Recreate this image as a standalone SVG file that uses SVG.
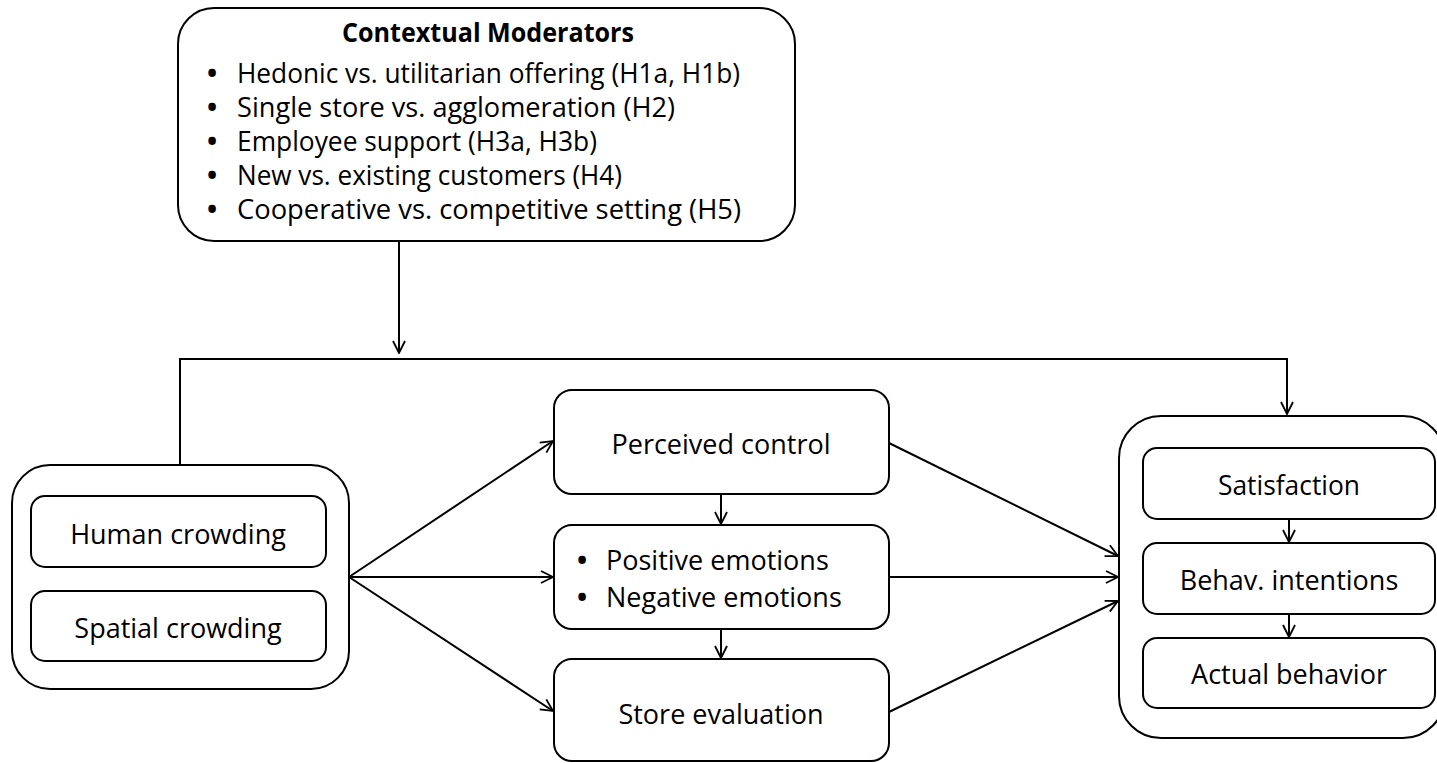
<svg xmlns="http://www.w3.org/2000/svg" width="1437" height="763" viewBox="0 0 1437 763">
<style>
  .box { fill: #fff; stroke: #000; stroke-width: 2; }
  .t { font-family: "Open Sans", "Noto Sans", "Liberation Sans", sans-serif; font-size: 27px; fill: #000; }
  .c { text-anchor: middle; }
  .b { font-weight: bold; }
  .bu { font-family: "Open Sans", "Noto Sans", "Liberation Sans", sans-serif; font-size: 27px; font-weight: bold; fill: #000; text-anchor: middle; }
  .ln { fill: none; stroke: #000; stroke-width: 2; }
</style>
<defs>
  <marker id="arr" viewBox="0 0 14 14" refX="13" refY="7" markerWidth="14" markerHeight="14" markerUnits="userSpaceOnUse" orient="auto">
    <path d="M1,1 L13,7 L1,13" fill="none" stroke="#000" stroke-width="1.8"/>
  </marker>
</defs>
<rect width="1437" height="763" fill="#fff"/>

<g id="moderators">
  <rect class="box" x="178" y="8" width="617" height="233" rx="36"/>
  <text class="t c b" x="488" y="42" textLength="292" lengthAdjust="spacingAndGlyphs">Contextual Moderators</text>
  <g>
    <text class="bu" x="212" y="83">•</text><text class="t" x="237" y="83" textLength="503" lengthAdjust="spacingAndGlyphs">Hedonic vs. utilitarian offering (H1a, H1b)</text>
    <text class="bu" x="212" y="117">•</text><text class="t" x="237" y="117" textLength="438" lengthAdjust="spacingAndGlyphs">Single store vs. agglomeration (H2)</text>
    <text class="bu" x="212" y="151">•</text><text class="t" x="237" y="151" textLength="360" lengthAdjust="spacingAndGlyphs">Employee support (H3a, H3b)</text>
    <text class="bu" x="212" y="185">•</text><text class="t" x="237" y="185" textLength="385" lengthAdjust="spacingAndGlyphs">New vs. existing customers (H4)</text>
    <text class="bu" x="212" y="219">•</text><text class="t" x="237" y="219" textLength="504" lengthAdjust="spacingAndGlyphs">Cooperative vs. competitive setting (H5)</text>
  </g>
</g>

<g id="crowding">
  <rect class="box" x="12" y="465" width="337" height="224" rx="38"/>
  <g id="human">
    <rect class="box" x="31" y="496" width="295" height="71" rx="14"/>
    <text class="t c" x="178" y="544">Human crowding</text>
  </g>
  <g id="spatial">
    <rect class="box" x="31" y="591" width="295" height="70" rx="14"/>
    <text class="t c" x="178" y="638">Spatial crowding</text>
  </g>
</g>

<g id="perceived-control">
  <rect class="box" x="554" y="390" width="335" height="104" rx="18"/>
  <text class="t c" x="721" y="454">Perceived control</text>
</g>

<g id="emotions">
  <rect class="box" x="554" y="525" width="335" height="104" rx="18"/>
  <text class="bu" x="582" y="570">•</text><text class="t" x="606" y="570">Positive emotions</text>
  <text class="bu" x="582" y="607">•</text><text class="t" x="606" y="607">Negative emotions</text>
</g>

<g id="store-evaluation">
  <rect class="box" x="554" y="659" width="335" height="102" rx="18"/>
  <text class="t c" x="721" y="724">Store evaluation</text>
</g>

<g id="outcomes">
  <rect class="box" x="1119" y="416" width="326" height="322" rx="42"/>
  <g id="satisfaction">
    <rect class="box" x="1143" y="448" width="292" height="71" rx="14"/>
    <text class="t c" x="1289" y="495" textLength="142" lengthAdjust="spacingAndGlyphs">Satisfaction</text>
  </g>
  <g id="intentions">
    <rect class="box" x="1143" y="543" width="292" height="71" rx="14"/>
    <text class="t c" x="1289" y="590">Behav. intentions</text>
  </g>
  <g id="behavior">
    <rect class="box" x="1143" y="638" width="292" height="70" rx="14"/>
    <text class="t c" x="1289" y="684">Actual behavior</text>
  </g>
</g>

<g id="connectors">
  <path class="ln" d="M399,241 L399,353" marker-end="url(#arr)"/>
  <path class="ln" d="M180,465 L180,359 L1287,359 L1287,414" marker-end="url(#arr)"/>
  <path class="ln" d="M349,577 L553,441" marker-end="url(#arr)"/>
  <path class="ln" d="M349,577 L553,577" marker-end="url(#arr)"/>
  <path class="ln" d="M349,577 L553,711" marker-end="url(#arr)"/>
  <path class="ln" d="M721,494 L721,524" marker-end="url(#arr)"/>
  <path class="ln" d="M721,629 L721,658" marker-end="url(#arr)"/>
  <path class="ln" d="M889,443 L1118,556" marker-end="url(#arr)"/>
  <path class="ln" d="M889,577 L1118,577" marker-end="url(#arr)"/>
  <path class="ln" d="M889,712 L1118,601" marker-end="url(#arr)"/>
  <path class="ln" d="M1289,519 L1289,542" marker-end="url(#arr)"/>
  <path class="ln" d="M1289,614 L1289,637" marker-end="url(#arr)"/>
</g>
</svg>
